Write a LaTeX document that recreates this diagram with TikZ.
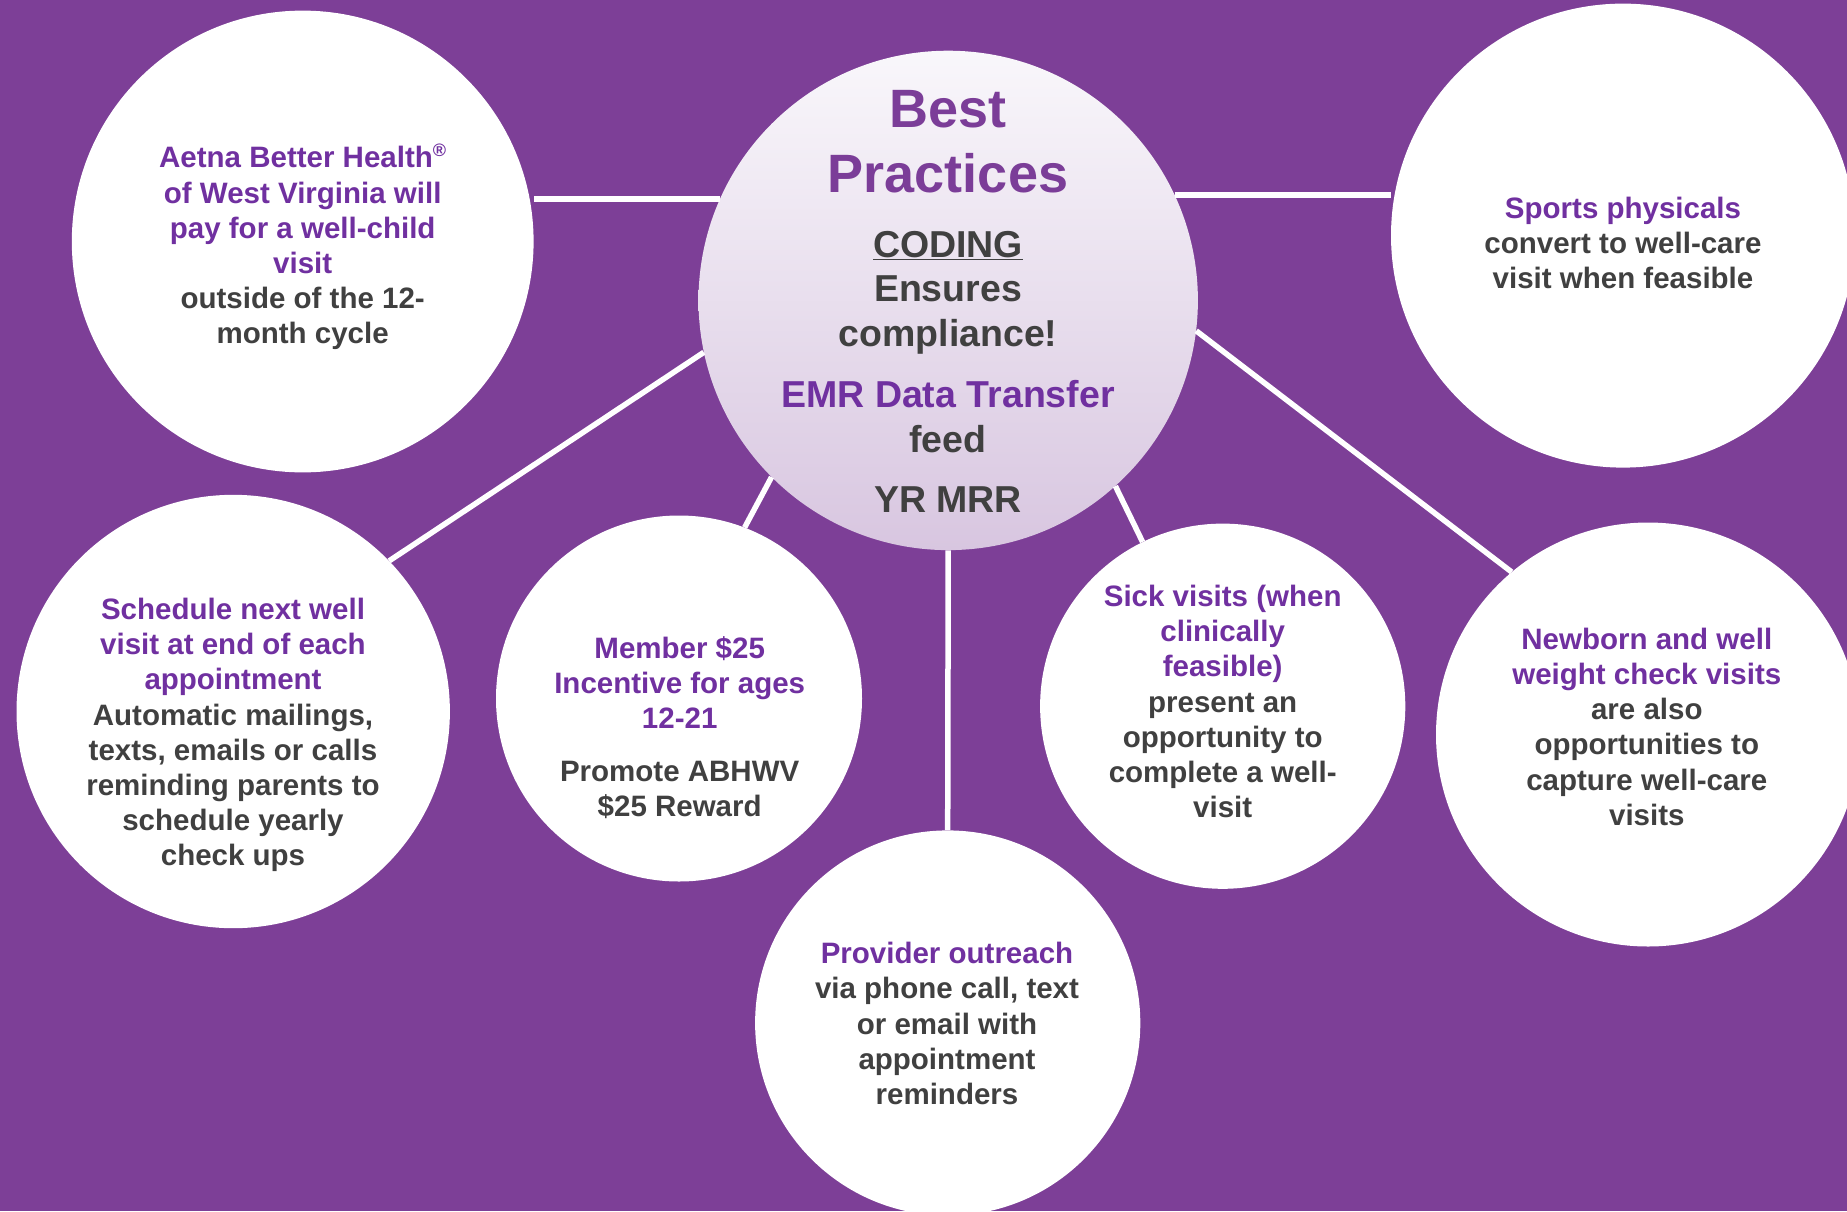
\documentclass[tikz,border=0pt]{standalone}
\usepackage{fontspec}
\setmainfont{Liberation Sans}
\usepackage{xcolor}
\definecolor{bgpurple}{HTML}{7D3F97}
\definecolor{ptext}{HTML}{7030A0}
\definecolor{ttext}{HTML}{7B3D98}
\definecolor{gtext}{HTML}{404040}
\definecolor{ctop}{HTML}{F9F7FB}
\definecolor{cbot}{HTML}{D8C6E0}
\newcommand\pu[1]{\textcolor{ptext}{#1}}
\newcommand\bodyfont{\fontsize{29.5}{35.2}\selectfont\bfseries}
\newcommand\midfont{\fontsize{37.5}{45}\selectfont\bfseries}
\newcommand\bigfont{\fontsize{54}{64}\selectfont\bfseries}
\tikzset{
  bubble/.style={circle, fill=white, draw=none, inner sep=0pt, minimum size=#1},
  hubbubble/.style={circle, draw=none, inner sep=0pt, minimum size=#1, top color=ctop, bottom color=cbot},
  link/.style={draw=white, line width=5.5pt},
  txt/.style={align=center, font=\bodyfont, text=gtext, inner sep=0pt},
  hubtxt/.style={anchor=base, inner sep=0pt, font=\midfont, text=gtext},
}
\begin{document}
\begin{tikzpicture}[x=1pt, y=-1pt]
\fill[bgpurple] (0,0) rectangle (1847,1211);
\useasboundingbox (0,0) rectangle (1847,1211);

% circles
\node[hubbubble=499.4pt] (hub) at (948.2,300.4) {};
\node[bubble=461.8pt] (tl) at (302.7,241.5) {};
\node[bubble=464pt] (tr) at (1623,235.6) {};
\node[bubble=433.4pt] (lm) at (233.2,711.5) {};
\node[bubble=366pt] (mem) at (679,698.5) {};
\node[bubble=385.2pt] (prov) at (947.7,1023) {};
\node[bubble=365.2pt] (sick) at (1222.7,706.2) {};
\node[bubble=424pt] (nb) at (1648,734.5) {};

% connectors
\draw[link] (hub.156.3) -- (hub.156.3 -| tl.east);
\draw[link] (hub.25.1) -- (hub.25.1 -| tr.west);
\draw[link] (hub.192.6) -- (lm.44.1);
\draw[link] (hub.225.4) -- (mem.69.9);
\draw[link] (hub.south) -- (prov.north);
\draw[link] (hub.312.7) -- (sick.116.5);
\draw[link] (hub.353.2) -- (nb.130.9);

% hub text
\node[hubtxt, font=\bigfont, text=ttext] (hbest) at (948,127) {Best};
\node[hubtxt, font=\bigfont, text=ttext] (hprac) at (948,192) {Practices};
\node[hubtxt] (hcod) at (948,257) {\underline{CODING}};
\node[hubtxt] (hens) at (948,301) {Ensures};
\node[hubtxt] (hcomp) at (948,346) {compliance!};
\node[hubtxt, text=ptext] (hemr) at (948,407) {EMR Data Transfer};
\node[hubtxt] (hfeed) at (948,452) {feed};
\node[hubtxt] (hyr) at (948,512) {YR MRR};

% satellite texts
\node[txt] (tltxt) at (302.7,247) {\pu{Aetna Better Health\raisebox{0.38em}{\fontsize{18}{18}\selectfont ®}}\\
\pu{of West Virginia will}\\ \pu{pay for a well-child}\\ \pu{visit}\\ outside of the 12-\\ month cycle};
\node[txt] (trtxt) at (1623,242.7) {\pu{Sports physicals}\\ convert to well-care\\ visit when feasible};
\node[txt] (lmtxt) at (233,735) {\pu{Schedule next well}\\ \pu{visit at end of each}\\ \pu{appointment}\\ Automatic mailings,\\ texts, emails or calls\\ reminding parents to\\ schedule yearly\\ check ups};
\node[txt] (memtxt) at (679.7,727.5) {\pu{Member \$25}\\ \pu{Incentive for ages}\\ \pu{12-21}\\[17pt] Promote ABHWV\\ \$25 Reward};
\node[txt] (provtxt) at (947,1023.6) {\pu{Provider outreach}\\ via phone call, text\\ or email with\\ appointment\\ reminders};
\node[txt] (sicktxt) at (1222.7,701.5) {\pu{Sick visits (when}\\ \pu{clinically}\\ \pu{feasible)}\\ present an\\ opportunity to\\ complete a well-\\ visit};
\node[txt] (nbtxt) at (1646.8,726.8) {\pu{Newborn and well}\\ \pu{weight check visits}\\ are also\\ opportunities to\\ capture well-care\\ visits};
\end{tikzpicture}
\end{document}
